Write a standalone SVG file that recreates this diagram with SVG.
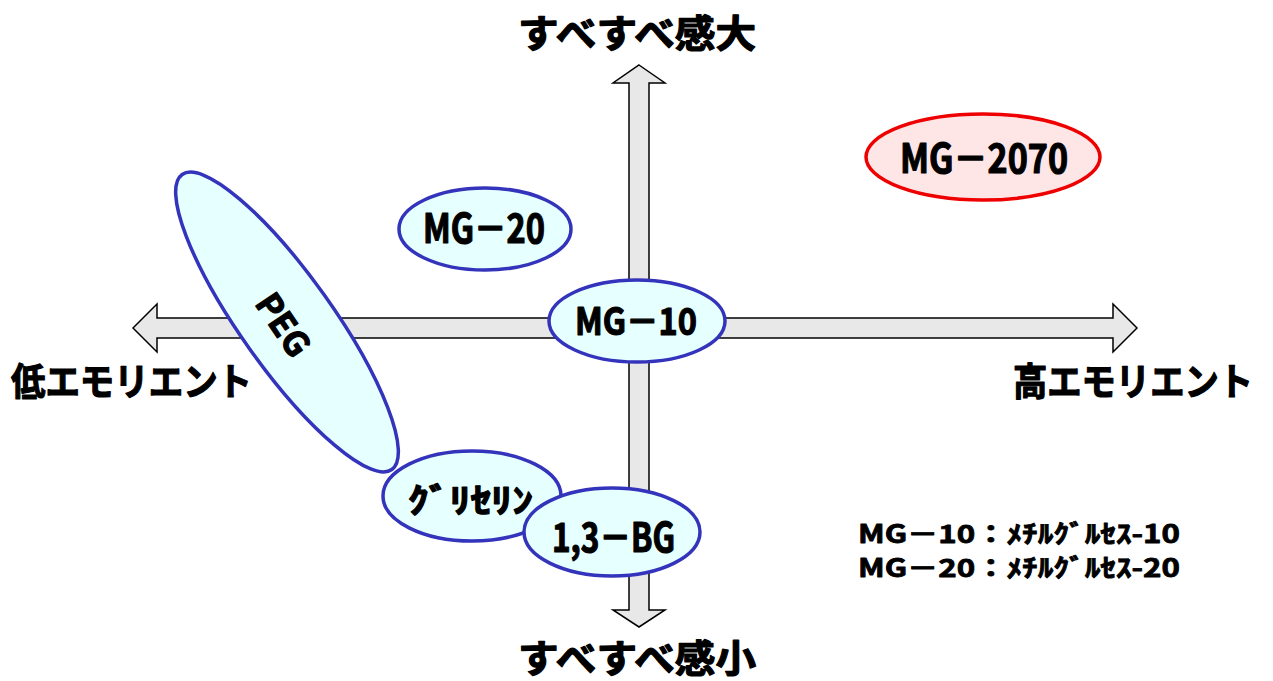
<svg xmlns="http://www.w3.org/2000/svg" width="1273" height="681" viewBox="0 0 1273 681">
<style>
.arrow{fill:#e8e8e8;stroke:#000;stroke-width:1.5;stroke-linejoin:miter}
.blue{fill:#e6ffff;stroke:#3333bb;stroke-width:3.5}
.red{fill:#ffe6e6;stroke:#ee0000;stroke-width:3.5}
text{font-family:"Noto Sans CJK JP","Liberation Sans",sans-serif;font-weight:bold;fill:#000;stroke:#000;stroke-width:1.2;stroke-linejoin:round}
.axis{font-size:38px}
.leg{stroke-width:0.8}
</style>
<rect width="1273" height="681" fill="#fff"/>
<g id="connectors">
<polygon class="arrow" points="133,328 157,304 157,318 1113,318 1113,304 1137,328 1113,352 1113,338 157,338 157,352"/>
<polygon class="arrow" points="639,65 665,83 649,83 649,610 665,610 639,627 613,610 629,610 629,83 613,83"/>
</g>
<g id="axis-top"><text class="axis" x="518" y="47" textLength="238" lengthAdjust="spacingAndGlyphs">すべすべ感大</text></g>
<g id="axis-bottom"><text class="axis" x="518" y="672" textLength="238" lengthAdjust="spacingAndGlyphs">すべすべ感小</text></g>
<g id="axis-left"><text class="axis" x="11" y="395" font-size="36" textLength="241" lengthAdjust="spacingAndGlyphs">低エモリエント</text></g>
<g id="axis-right"><text class="axis" x="1013" y="395" font-size="36" textLength="240" lengthAdjust="spacingAndGlyphs">高エモリエント</text></g>
<g id="node-mg2070">
<ellipse class="red" cx="983" cy="157" rx="117" ry="43"/>
<text x="900" y="173" font-size="40" textLength="168" lengthAdjust="spacingAndGlyphs">MG－2070</text>
</g>
<g id="node-mg20">
<ellipse class="blue" cx="485" cy="229" rx="86" ry="41"/>
<text x="423" y="243" font-size="40" textLength="122" lengthAdjust="spacingAndGlyphs">MG－20</text>
</g>
<g id="node-peg">
<ellipse class="blue" cx="287" cy="322" rx="181" ry="46" transform="rotate(54.6 287 322)"/>
<text x="0" y="0" font-size="34" text-anchor="middle" transform="translate(283 325) rotate(56)" dy="12">PEG</text>
</g>
<g id="node-mg10">
<ellipse class="blue" cx="637" cy="321" rx="88" ry="41"/>
<text x="575" y="335" font-size="38" textLength="122" lengthAdjust="spacingAndGlyphs">MG－10</text>
</g>
<g id="node-glycerin">
<ellipse class="blue" cx="472" cy="496" rx="89" ry="45"/>
<text x="408" y="513" font-size="34" textLength="125" lengthAdjust="spacingAndGlyphs">ｸﾞﾘｾﾘﾝ</text>
</g>
<g id="node-bg">
<ellipse class="blue" cx="612" cy="532" rx="88" ry="44"/>
<text x="552" y="552" font-size="40" textLength="123" lengthAdjust="spacingAndGlyphs">1,3－BG</text>
</g>
<g id="legend">
<text class="leg" x="858" y="543" font-size="25" textLength="322" lengthAdjust="spacingAndGlyphs">MG－10：ﾒﾁﾙｸﾞﾙｾｽ-10</text>
<text class="leg" x="858" y="577" font-size="25" textLength="322" lengthAdjust="spacingAndGlyphs">MG－20：ﾒﾁﾙｸﾞﾙｾｽ-20</text>
</g>
</svg>
